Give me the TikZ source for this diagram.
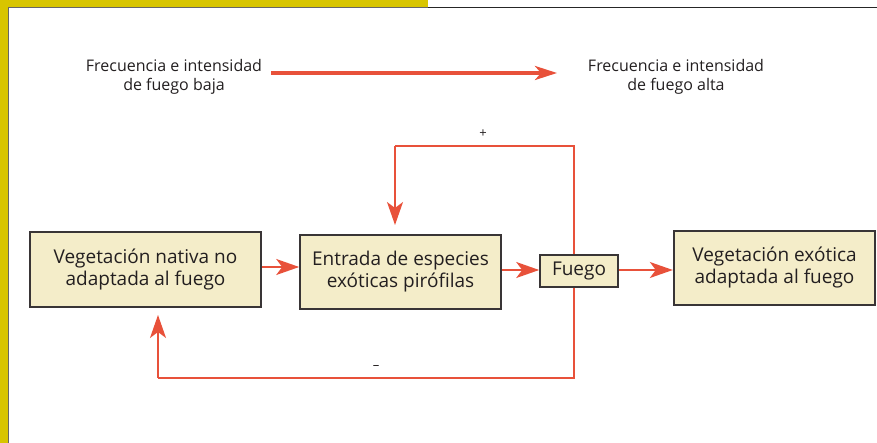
\documentclass[tikz,border=0pt]{standalone}
\usepackage{fontspec}
\setmainfont{Open Sans}
\usetikzlibrary{arrows.meta}
\definecolor{fr}{HTML}{E8513A}
\definecolor{bx}{HTML}{F4EDC9}
\definecolor{yb}{HTML}{D8C500}
\definecolor{tx}{HTML}{231F20}
\tikzset{
  box/.style={draw=tx!90, line width=1.6pt, fill=bx, text=tx, align=center, inner sep=0pt, font=\fontsize{19}{22}\selectfont},
  lbl/.style={text=tx, align=center, font=\fontsize{16}{19}\selectfont},
  link/.style={draw=fr, line width=1.6pt, -{Stealth[length=23pt,width=16pt,inset=6pt]}},
  fb/.style={draw=fr, line width=1.4pt}
}
\begin{document}
\begin{tikzpicture}[x=1pt,y=-1pt]
\useasboundingbox (0,0) rectangle (877,443);
% frame
\fill[yb] (0,0) rectangle (428,7.5);
\fill[yb] (0,0) rectangle (8,443);
\draw[gray!80!black, line width=1pt] (8.5,443) -- (8.5,8) -- (428,8);
\draw[black!85, line width=1pt] (428,7.5) -- (877,7.5);
% texts
\node[lbl] (lo) at (174,77) {Frecuencia e intensidad\\de fuego baja};
\node[lbl] (hi) at (676,77) {Frecuencia e intensidad\\de fuego alta};
\coordinate (a0) at (271,73);
\coordinate (a1) at (557,73);
\draw[draw=fr, line width=3.6pt, -{Stealth[length=22pt,width=14pt,inset=6pt]}] (a0) -- (a1);
% boxes
\node[box, minimum width=231pt, minimum height=75pt] (nat) at (145.5,269.5) {Vegetación nativa no\\adaptada al fuego};
\node[box, minimum width=201pt, minimum height=74pt] (ent) at (400.5,272) {Entrada de especies\\exóticas pirófilas};
\node[box, minimum width=78pt, minimum height=32pt] (fue) at (579,271) {Fuego};
\node[box, line width=2.4pt, minimum width=201pt, minimum height=74pt] (exo) at (774.5,268) {Vegetación exótica\\adaptada al fuego};
% arrows
\draw[link] (nat.east |- 0,267) -- (ent.west |- 0,267);
\draw[link] (ent.east |- 0,270) -- (fue.west |- 0,270);
\draw[link] (fue.east |- 0,270) -- (exo.west |- 0,270);
% feedback
\coordinate (t1) at (574,146);
\coordinate (t2) at (395,146);
\coordinate (b1) at (574,378);
\coordinate (b2) at (158,378);
\draw[fb] (fue.north -| 574,0) -- (t1) -- (t2);
\draw[link, line width=1.4pt] (t2) -- (395,225);
\draw[fb] (fue.south -| 574,0) -- (b1) -- (b2);
\draw[link, line width=1.4pt] (b2) -- (158,315);
\node[text=tx, font=\fontsize{13}{13}\selectfont] (plus) at (483,134) {+};
\node[text=tx, font=\fontsize{13}{13}\selectfont] (minus) at (376,368) {–};
\end{tikzpicture}
\end{document}
